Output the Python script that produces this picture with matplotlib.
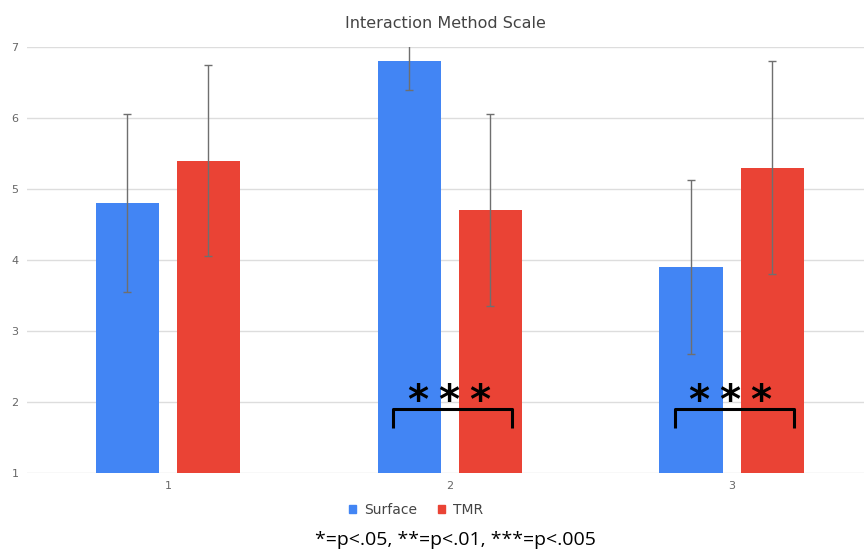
import numpy as np
import matplotlib.pyplot as plt
from matplotlib.patches import Patch

# data
groups = [1, 2, 3]
surface = [4.8, 6.8, 3.9]
tmr = [5.4, 4.7, 5.3]
surface_err = [1.25, 0.4, 1.22]
tmr_err = [1.35, 1.35, 1.5]
sig_groups = [2, 3]
sig_label = "***"
footnote = "*=p<.05, **=p<.01, ***=p<.005"

blue = "#4285f4"
red = "#ea4335"

fig = plt.figure(figsize=(8.65, 5.54), dpi=100)
ax = fig.add_axes([27/865, 1 - 473/554, 837/865, 426/554])

x = np.array(groups, dtype=float)
w = 0.224
off = 0.144
ax.bar(x - off, surface, w, bottom=0, color=blue, zorder=2)
ax.bar(x + off, tmr, w, bottom=0, color=red, zorder=2)
ax.errorbar(x - off, surface, yerr=surface_err, fmt="none", ecolor="#6f6f6f",
            elinewidth=1, capsize=3, capthick=1, zorder=3)
ax.errorbar(x + off, tmr, yerr=tmr_err, fmt="none", ecolor="#6f6f6f",
            elinewidth=1, capsize=3, capthick=1, zorder=3)

ax.set_xlim(0.5, 3.47)
ax.set_ylim(1, 7)
ax.set_yticks(range(1, 8))
ax.set_xticks(groups)
ax.grid(axis="y", color="#dddddd", linewidth=1, zorder=0)
ax.set_axisbelow(True)
for s in ax.spines.values():
    s.set_visible(False)
ax.tick_params(length=0, labelsize=8, labelcolor="#666666")
ax.tick_params(axis="y", pad=6)
ax.tick_params(axis="x", pad=6)

ax.set_title("Interaction Method Scale", fontsize=11.5, color="#444444", pad=14)

# significance brackets
for g in sig_groups:
    left, right = g - 0.2, g + 0.22
    ax.plot([left, left, right, right], [1.63, 1.9, 1.9, 1.63], color="black",
            lw=2.2, solid_capstyle="butt", zorder=4)
    for k, ch in enumerate(sig_label):
        ax.text(g - 0.115 + k * 0.11, 2.0, ch, fontsize=29, fontweight="bold",
                ha="center", va="center", color="black", zorder=5)

handles = [Patch(color=blue, label="Surface"), Patch(color=red, label="TMR")]
fig.legend(handles=handles, loc="center", bbox_to_anchor=(0.481, 1 - 510/554),
           ncol=2, frameon=False, fontsize=10, handlelength=0.5, handleheight=0.5,
           columnspacing=1.5, handletextpad=0.6, labelcolor="#444444")

fig.text(0.526, 1 - 540/554, footnote, ha="center", va="center", fontsize=14,
         family="Open Sans", color="black")

fig.savefig("out.png", dpi=100, facecolor="white")
